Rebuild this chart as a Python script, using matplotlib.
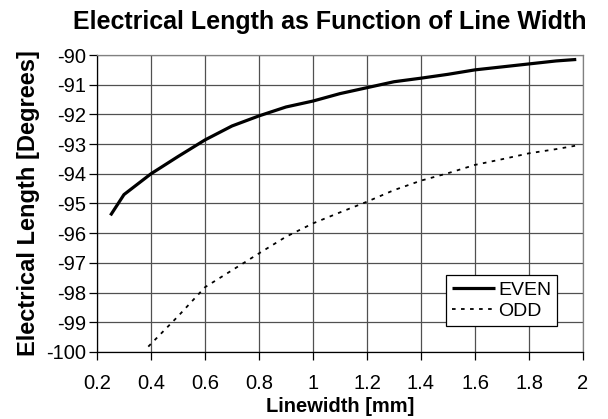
import matplotlib
matplotlib.use("Agg")
import matplotlib.pyplot as plt

# Valores
even_x = [0.25, 0.3, 0.4, 0.5, 0.6, 0.7, 0.8, 0.9, 1.0, 1.1, 1.2, 1.3, 1.4,
          1.5, 1.6, 1.7, 1.8, 1.9, 1.975]
even_y = [-95.4, -94.7, -94.0, -93.42, -92.86, -92.39, -92.05, -91.75, -91.55,
          -91.3, -91.1, -90.9, -90.78, -90.65, -90.5, -90.4, -90.3, -90.2, -90.15]

odd_x = [0.39, 0.5, 0.6, 0.7, 0.8, 0.9, 1.0, 1.1, 1.2, 1.3, 1.4, 1.5, 1.6,
         1.7, 1.8, 1.9, 1.975]
odd_y = [-99.82, -98.8, -97.82, -97.25, -96.68, -96.12, -95.67, -95.3, -94.94,
         -94.55, -94.23, -93.98, -93.7, -93.51, -93.31, -93.17, -93.05]

x_ticks = [0.2, 0.4, 0.6, 0.8, 1.0, 1.2, 1.4, 1.6, 1.8, 2.0]
x_tick_labels = ['0.2', '0.4', '0.6', '0.8', '1', '1.2', '1.4', '1.6', '1.8', '2']
y_ticks = list(range(-100, -89))

plt.rcParams['font.family'] = ['Liberation Sans', 'DejaVu Sans']
plt.rcParams['axes.unicode_minus'] = False

fig = plt.figure(figsize=(6.08, 4.19), dpi=100)
ax = fig.add_axes([0.1595, 0.160, 0.7994, 0.7087])

ax.plot(even_x, even_y, color='black', lw=2.3, label='EVEN', solid_capstyle='butt')
ax.plot(odd_x, odd_y, color='black', lw=1.3, linestyle=(0, (2, 3)), label='ODD')

ax.set_xlim(0.2, 2.0)
ax.set_ylim(-100, -90)
ax.set_xticks(x_ticks)
ax.set_xticklabels(x_tick_labels)
ax.set_yticks(y_ticks)
ax.grid(True, color='#505050', lw=0.9)
ax.tick_params(axis='both', direction='out', length=6, width=0.9, labelsize=14.5)
ax.tick_params(axis='x', pad=10)
ax.tick_params(axis='y', pad=2)

for side in ['top', 'right']:
    ax.spines[side].set_color('#808080')
    ax.spines[side].set_linewidth(0.9)
for side in ['left', 'bottom']:
    ax.spines[side].set_color('black')
    ax.spines[side].set_linewidth(0.9)

ax.set_xlabel('Linewidth [mm]', fontsize=14.5, fontweight='bold', labelpad=3)
ax.set_ylabel('Electrical Length [Degrees]', fontsize=17, fontweight='bold', labelpad=4)
fig.text(0.543, 0.931, 'Electrical Length as Function of Line Width',
         fontsize=18, fontweight='bold', ha='center', va='baseline')

leg = ax.legend(loc='lower left', bbox_to_anchor=(0.718, 0.0875), fontsize=14,
                fancybox=False, framealpha=1, edgecolor='black',
                handlelength=2.2, handletextpad=0.2, borderpad=0.3,
                labelspacing=0.2, borderaxespad=0)
leg.get_frame().set_linewidth(0.9)

fig.savefig('out.png', dpi=100)
